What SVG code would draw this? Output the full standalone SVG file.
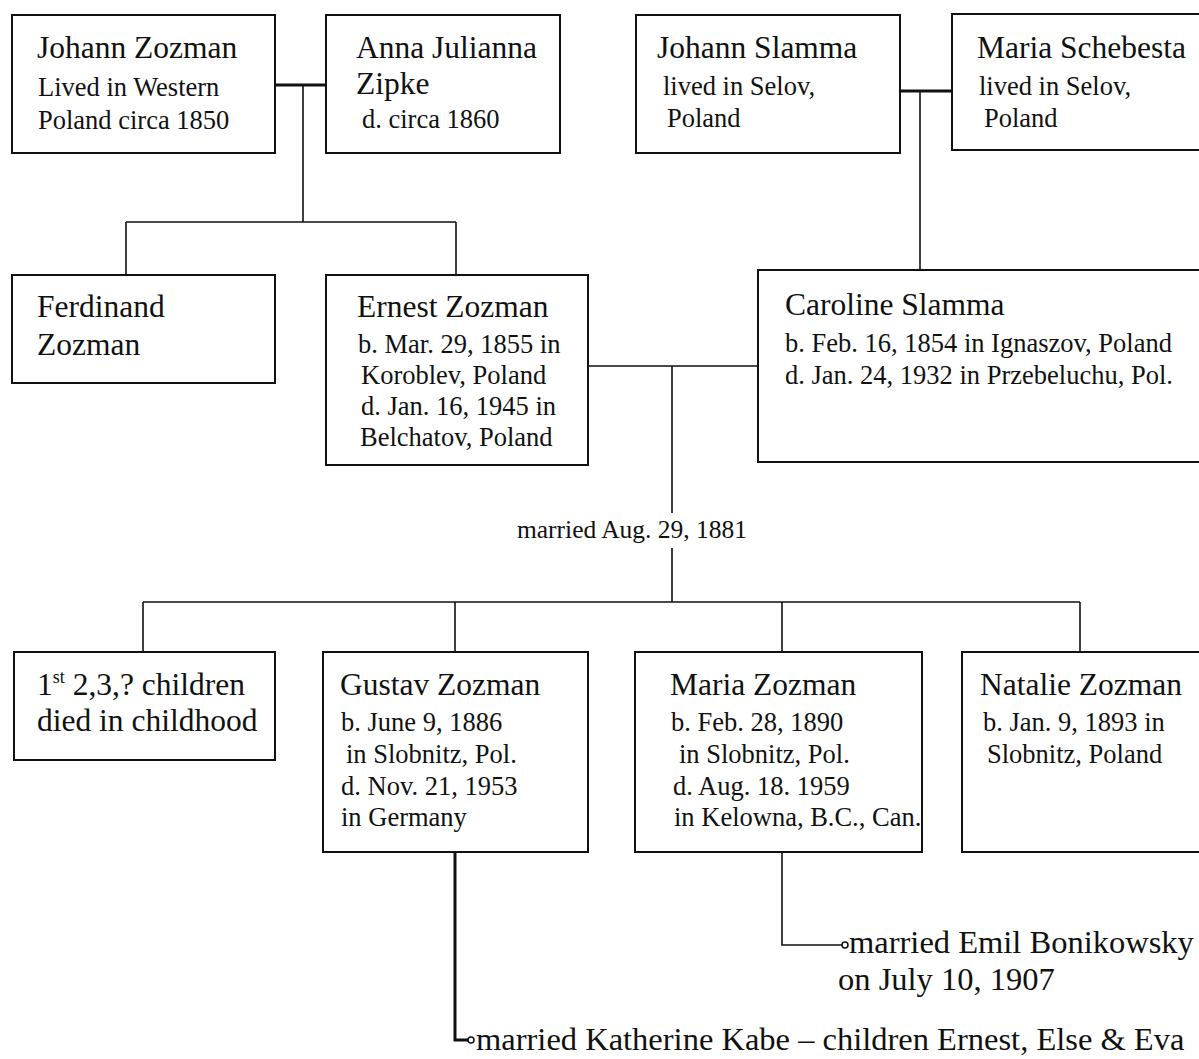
<svg xmlns="http://www.w3.org/2000/svg" width="1199" height="1059" viewBox="0 0 1199 1059">
<style>
.box{fill:#fff;stroke:#111;stroke-width:2}
.ln{fill:none;stroke:#111;stroke-width:1.6}
.thk{fill:none;stroke:#111;stroke-width:3}
text{font-family:"Liberation Serif","Times New Roman",serif;fill:#111}
.nm{font-size:31.5px}
.dt{font-size:26.5px}
.lbl{font-size:25.5px}
.mar{font-size:32.5px}
</style>
<rect width="1199" height="1059" fill="#fff"/>
<g id="connectors">
<path class="thk" d="M275,85 H326"/>
<path class="ln" d="M303,85 V222 M126,222 H456 M126,222 V275 M456,222 V275"/>
<path class="thk" d="M900,91 H952"/>
<path class="ln" d="M920,91 V270"/>
<path class="ln" d="M588,366 H758 M672,366 V513 M672,548 V602"/>
<path class="ln" d="M143,602 H1080 M143,602 V652 M455,602 V652 M782,602 V652 M1080,602 V652"/>
<path class="ln" d="M782,852 V945 H842"/>
<circle cx="845" cy="945" r="3" fill="#fff" stroke="#111" stroke-width="1.5"/>
<path class="thk" d="M455,852 V1040 H468"/>
<circle cx="471" cy="1040" r="3" fill="#fff" stroke="#111" stroke-width="1.5"/>
</g>
<g id="johann-zozman">
<rect class="box" x="12" y="15" width="263" height="138"/>
<text class="nm" x="37" y="58">Johann Zozman</text>
<text class="dt" x="38" y="96">Lived in Western</text>
<text class="dt" x="38" y="129">Poland circa 1850</text>
</g>
<g id="anna-julianna-zipke">
<rect class="box" x="326" y="15" width="234" height="138"/>
<text class="nm" x="356" y="58">Anna Julianna</text>
<text class="nm" x="356" y="94">Zipke</text>
<text class="dt" x="362" y="128">d. circa 1860</text>
</g>
<g id="johann-slamma">
<rect class="box" x="636" y="15" width="264" height="138"/>
<text class="nm" x="657" y="58">Johann Slamma</text>
<text class="dt" x="663" y="95">lived in Selov,</text>
<text class="dt" x="667" y="127">Poland</text>
</g>
<g id="maria-schebesta">
<rect class="box" x="952" y="14" width="260" height="136"/>
<text class="nm" x="977" y="58">Maria Schebesta</text>
<text class="dt" x="979" y="95">lived in Selov,</text>
<text class="dt" x="984" y="127">Poland</text>
</g>
<g id="ferdinand-zozman">
<rect class="box" x="12" y="275" width="263" height="108"/>
<text class="nm" x="37" y="317">Ferdinand</text>
<text class="nm" x="37" y="355">Zozman</text>
</g>
<g id="ernest-zozman">
<rect class="box" x="326" y="275" width="262" height="190"/>
<text class="nm" x="357" y="317">Ernest Zozman</text>
<text class="dt" x="358" y="353">b. Mar. 29, 1855 in</text>
<text class="dt" x="361" y="384">Koroblev, Poland</text>
<text class="dt" x="361" y="415">d. Jan. 16, 1945 in</text>
<text class="dt" x="360" y="446">Belchatov, Poland</text>
</g>
<g id="caroline-slamma">
<rect class="box" x="758" y="270" width="454" height="192"/>
<text class="nm" x="785" y="315">Caroline Slamma</text>
<text class="dt" x="785" y="352">b. Feb. 16, 1854 in Ignaszov, Poland</text>
<text class="dt" x="785" y="384">d. Jan. 24, 1932 in Przebeluchu, Pol.</text>
</g>
<g id="marriage-label">
<text class="lbl" x="632" y="538" text-anchor="middle">married Aug. 29, 1881</text>
</g>
<g id="early-children">
<rect class="box" x="14" y="652" width="261" height="108"/>
<text class="nm" x="37" y="695">1<tspan font-size="18" dy="-12">st</tspan><tspan dy="12"> 2,3,? children</tspan></text>
<text class="nm" x="37" y="731">died in childhood</text>
</g>
<g id="gustav-zozman">
<rect class="box" x="323" y="652" width="265" height="200"/>
<text class="nm" x="340" y="695">Gustav Zozman</text>
<text class="dt" x="341" y="731">b. June 9, 1886</text>
<text class="dt" x="346" y="763">in Slobnitz, Pol.</text>
<text class="dt" x="341" y="795">d. Nov. 21, 1953</text>
<text class="dt" x="341" y="826">in Germany</text>
</g>
<g id="maria-zozman">
<rect class="box" x="635" y="652" width="287" height="200"/>
<text class="nm" x="670" y="695">Maria Zozman</text>
<text class="dt" x="671" y="731">b. Feb. 28, 1890</text>
<text class="dt" x="679" y="763">in Slobnitz, Pol.</text>
<text class="dt" x="673" y="795">d. Aug. 18. 1959</text>
<text class="dt" x="674" y="826">in Kelowna, B.C., Can.</text>
</g>
<g id="natalie-zozman">
<rect class="box" x="962" y="652" width="250" height="200"/>
<text class="nm" x="980" y="695">Natalie Zozman</text>
<text class="dt" x="983" y="731">b. Jan. 9, 1893 in</text>
<text class="dt" x="987" y="763">Slobnitz, Poland</text>
</g>
<g id="maria-marriage">
<text class="mar" x="849" y="953">married Emil Bonikowsky</text>
<text class="mar" x="838" y="990">on July 10, 1907</text>
</g>
<g id="gustav-marriage">
<text class="mar" x="476" y="1050">married Katherine Kabe – children Ernest, Else &amp; Eva</text>
</g>
</svg>
